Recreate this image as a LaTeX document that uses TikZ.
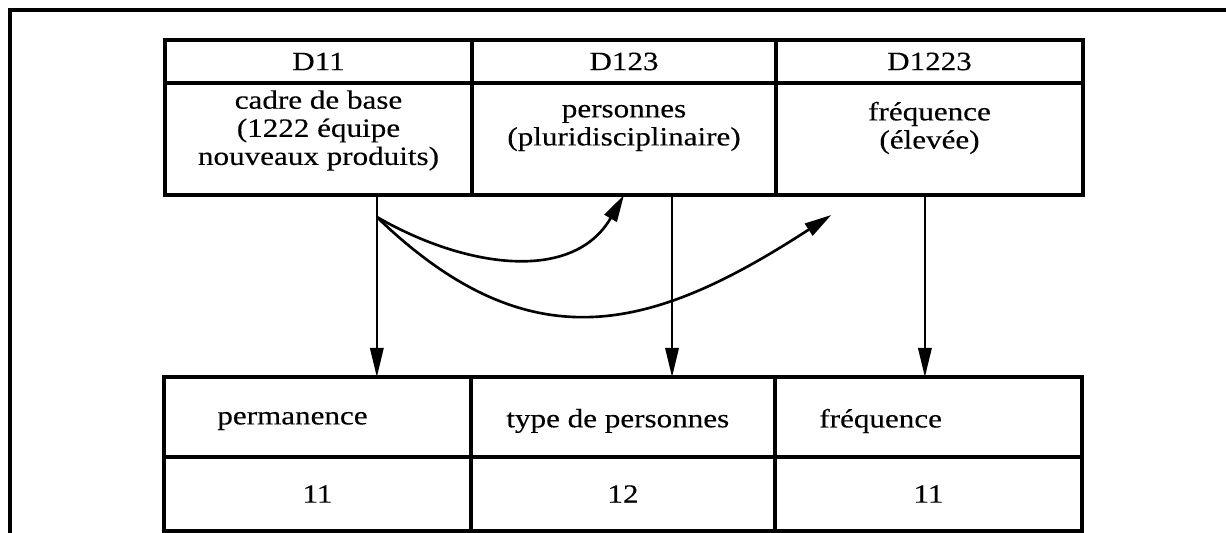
\documentclass[tikz,border=0pt]{standalone}
\usepackage{fontspec}
\setmainfont{Liberation Serif}[FakeStretch=1.18, FakeBold=0.3]
\usetikzlibrary{positioning,arrows.meta,calc}

\begin{document}
\begin{tikzpicture}[
  font=\fontsize{15}{16}\selectfont,
  cell/.style={draw, line width=1.8pt, inner sep=0pt, outer sep=0pt, align=center},
  hcell/.style={cell, minimum height=0.86cm},
  bcell/.style={cell, minimum height=2.24cm},
  pcell/.style={cell, minimum height=1.6cm},
  vcell/.style={cell, minimum height=1.48cm},
  txt/.style={inner sep=0pt, align=center},
  down/.style={-{Triangle[length=5.8mm, width=2.7mm]}, line width=1pt},
  curv/.style={-{Triangle[length=5.4mm, width=2.8mm]}, line width=1.5pt},
]
\useasboundingbox (0,0) rectangle (24.52,10.66);

% ---------- outer frame ----------
\draw[line width=2pt] (0.2,0) |- (24.52,10.46);

% ---------- upper table: relations ----------
\node[hcell, minimum width=6.14cm] (h1) at (6.37,9.43) {D11};
\node[hcell, minimum width=6.08cm] (h2) at (12.48,9.43) {D123};
\node[hcell, minimum width=6.14cm] (h3) at (18.59,9.43) {D1223};

\node[bcell, minimum width=6.14cm] (c1) at (6.37,7.88) {};
\node[bcell, minimum width=6.08cm] (c2) at (12.48,7.88) {};
\node[bcell, minimum width=6.14cm] (c3) at (18.59,7.88) {};

\node[txt] (t1) at ($(c1.north)+(0,-0.95)$)
  {cadre de base\\(1222 équipe\\nouveaux produits)};
\node[txt] (t2) at ($(c2.north)+(0,-0.9)$)
  {personnes\\(pluridisciplinaire)};
\node[txt] (t3) at ($(c3.north)+(0,-0.9)$)
  {fréquence\\(élevée)};

% ---------- lower table: properties and values ----------
\node[pcell, minimum width=6.14cm] (p1) at (6.35,2.32) {};
\node[pcell, minimum width=6.08cm] (p2) at (12.46,2.32) {};
\node[pcell, minimum width=6.14cm] (p3) at (18.57,2.32) {};

\node[txt, anchor=west] (q1) at ($(p1.west)+(1.06,-0.08)$) {permanence};
\node[txt, anchor=west] (q2) at ($(p2.west)+(0.7,-0.08)$) {type de personnes};
\node[txt, anchor=west] (q3) at ($(p3.west)+(0.88,-0.08)$) {fréquence};

\node[vcell, minimum width=6.14cm] (v1) at (6.35,0.78) {11};
\node[vcell, minimum width=6.08cm] (v2) at (12.46,0.78) {12};
\node[vcell, minimum width=6.14cm] (v3) at (18.57,0.78) {11};

% ---------- links ----------
\coordinate (s1) at ($(c1.south west)!0.69!(c1.south east)$);
\coordinate (s2) at ($(c2.south west)!0.658!(c2.south east)$);
\coordinate (s3) at ($(c3.south west)!0.485!(c3.south east)$);
\draw[down] (s1) -- (s1 |- p1.north);
\draw[down] (s2) -- (s2 |- p2.north);
\draw[down] (s3) -- (s3 |- p3.north);

\coordinate (k) at ($(s1)+(0,-0.44)$);
\coordinate (e2) at ($(c3.south west)!0.18!(c3.south east)+(0,-0.4)$);
\draw[curv] (k) to[out=-30, in=240, looseness=1.05] (c2.south);
\draw[curv] (k) to[out=-44, in=213, looseness=1.2] (e2);

\end{tikzpicture}
\end{document}
